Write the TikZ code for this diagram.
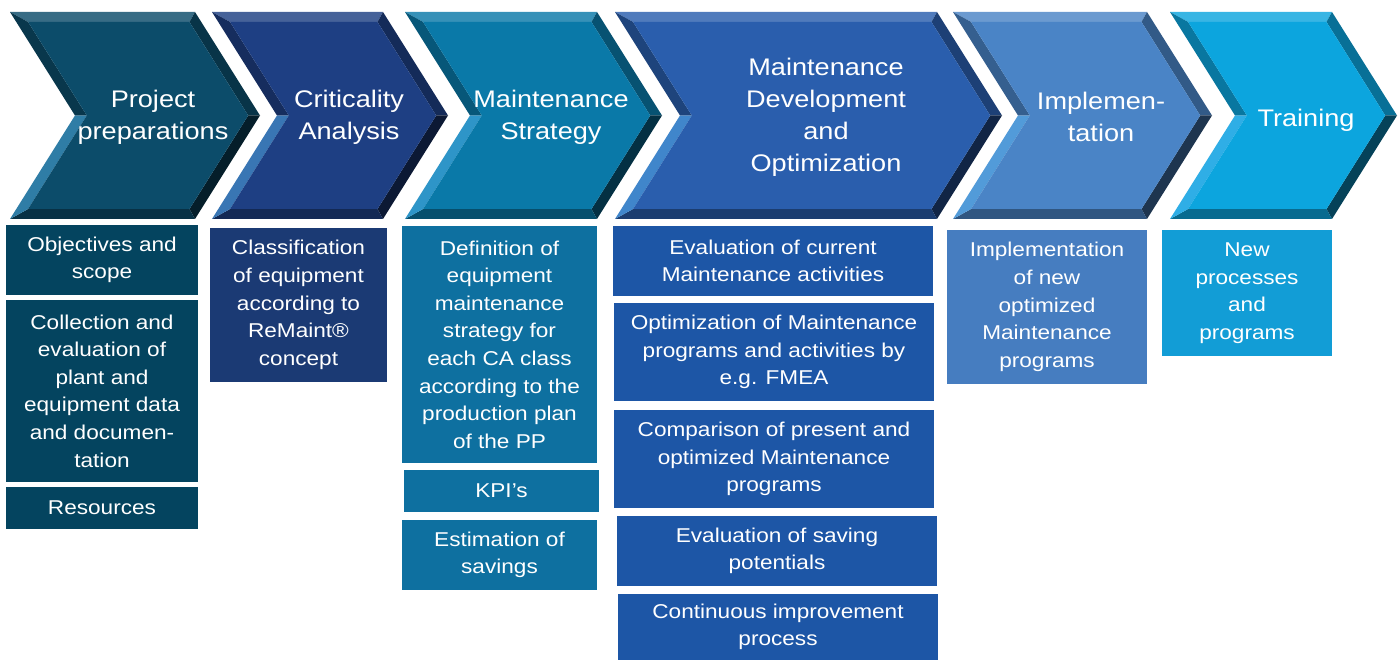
\documentclass[tikz,border=0pt]{standalone}
\usepackage{fontspec}
\setmainfont{Liberation Sans}[FakeStretch=1.13]

% phase colours: chevron body (A) and task boxes (B)
\definecolor{ppA}{HTML}{0C4C6A}\definecolor{ppB}{HTML}{04445F}
\definecolor{caA}{HTML}{1E3F83}\definecolor{caB}{HTML}{1B3A74}
\definecolor{msA}{HTML}{0A79A8}\definecolor{msB}{HTML}{0E70A0}
\definecolor{mdA}{HTML}{2A5EAD}\definecolor{mdB}{HTML}{1D56A6}
\definecolor{imA}{HTML}{4A84C6}\definecolor{imB}{HTML}{467DC0}
\definecolor{trA}{HTML}{0CA5DE}\definecolor{trB}{HTML}{129DD6}
\definecolor{shine}{HTML}{5BB8F0}

% bevelled chevron: #1 left x, #2 tip x, #3 body colour
% outer depth 65, bevel 10 (horizontal offsets 18.1 / 11.8 / 6.3)
\newcommand\chevronshape[3]{%
  % top facet
  \fill[#3!82!white] (#1,12) -- ({#2-65},12) -- ({#2-70.5},22) -- ({#1+18.1},22) -- cycle;
  % upper right facet
  \fill[#3!68!black] ({#2-65},12) -- (#2,115.5) -- ({#2-11.8},115.5) -- ({#2-70.5},22) -- cycle;
  % lower right facet
  \fill[#3!40!black] (#2,115.5) -- ({#2-65},219) -- ({#2-70.5},209) -- ({#2-11.8},115.5) -- cycle;
  % bottom facet
  \fill[#3!65!black] ({#2-65},219) -- (#1,219) -- ({#1+18.1},209) -- ({#2-70.5},209) -- cycle;
  % lower left facet
  \fill[#3!55!shine] (#1,219) -- ({#1+65},115.5) -- ({#1+76.8},115.5) -- ({#1+18.1},209) -- cycle;
  % upper left facet
  \fill[#3!72!black] ({#1+65},115.5) -- (#1,12) -- ({#1+18.1},22) -- ({#1+76.8},115.5) -- cycle;
  % face
  \fill[#3] ({#1+18.1},22) -- ({#2-70.5},22) -- ({#2-11.8},115.5) -- ({#2-70.5},209) -- ({#1+18.1},209) -- ({#1+76.8},115.5) -- cycle;
}

\tikzset{
  phase/.style={text=white, align=center, inner sep=0pt,
    font=\fontsize{24}{32}\selectfont},
  task/.style={fill=#1, text=white, align=center, inner sep=0pt, outer sep=0pt,
    font=\fontsize{20}{27.6}\selectfont},
}

\begin{document}
\begin{tikzpicture}[x=1pt,y=-1pt]
\fill[white] (0,0) rectangle (1399,660);
\useasboundingbox (0,0) rectangle (1399,660);

% process chevrons
\chevronshape{10}{260}{ppA}
\chevronshape{212}{448}{caA}
\chevronshape{405}{662}{msA}
\chevronshape{615}{1002}{mdA}
\chevronshape{953}{1212}{imA}
\chevronshape{1170}{1397}{trA}

% phase titles
\node[phase] (pp) at (153,117) {Project\\preparations};
\node[phase] (ca) at (349,117) {Criticality\\Analysis};
\node[phase] (ms) at (551,117) {Maintenance\\Strategy};
\node[phase] (md) at (826,117) {Maintenance\\Development\\and\\Optimization};
\node[phase] (im) at (1101,117) {Implemen-\\tation};
\node[phase] (tr) at (1306,120) {Training};

% project preparations
\node[task=ppB, minimum width=192pt, minimum height=70pt] (obj) at (102,260) {Objectives and\\scope};
\node[task=ppB, minimum width=192pt, minimum height=182pt] (col) at (102,391) {Collection and\\evaluation of\\plant and\\equipment data\\and documen-\\tation};
\node[task=ppB, minimum width=192pt, minimum height=42pt] (res) at (102,508) {Resources};

% criticality analysis
\node[task=caB, minimum width=177pt, minimum height=154pt] (cls) at (298.5,305) {Classification\\of equipment\\according to\\ReMaint®\\concept};

% maintenance strategy
\node[task=msB, minimum width=195pt, minimum height=237pt] (def) at (499.5,344.5) {Definition of\\equipment\\maintenance\\strategy for\\each CA class\\according to the\\production plan\\of the PP};
\node[task=msB, minimum width=195pt, minimum height=42pt] (kpi) at (501.5,491) {KPI’s};
\node[task=msB, minimum width=195pt, minimum height=70pt] (est) at (499.5,555) {Estimation of\\savings};

% maintenance development and optimization
\node[task=mdB, minimum width=320pt, minimum height=70pt] (evc) at (773,261) {Evaluation of current\\Maintenance activities};
\node[task=mdB, minimum width=320pt, minimum height=98pt] (opt) at (774,352) {Optimization of Maintenance\\programs and activities by\\e.g. FMEA};
\node[task=mdB, minimum width=320pt, minimum height=98pt] (cmp) at (774,459) {Comparison of present and\\optimized Maintenance\\programs};
\node[task=mdB, minimum width=320pt, minimum height=70pt] (sav) at (777,551) {Evaluation of saving\\potentials};
\node[task=mdB, minimum width=320pt, minimum height=66pt] (cip) at (778,627) {Continuous improvement\\process};

% implementation
\node[task=imB, minimum width=200pt, minimum height=154pt] (new) at (1047,307) {Implementation\\of new\\optimized\\Maintenance\\programs};

% training
\node[task=trB, minimum width=170pt, minimum height=126pt] (prc) at (1247,293) {New\\processes\\and\\programs};
\end{tikzpicture}
\end{document}
